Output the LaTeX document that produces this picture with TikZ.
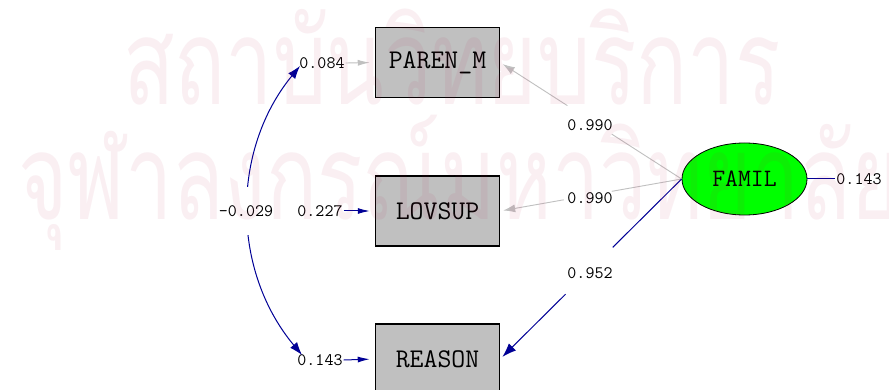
\documentclass[tikz,border=0pt]{standalone}
\usepackage{fontspec}
\newfontfamily\thaifont[Script=Thai]{Loma}
\usetikzlibrary{arrows.meta,shapes.geometric,calc}
\definecolor{lgray}{RGB}{192,192,192}
\definecolor{navyb}{RGB}{0,0,150}
\definecolor{boxfill}{RGB}{192,192,192}
\definecolor{famgreen}{RGB}{0,255,0}
\definecolor{wmcol}{RGB}{190,30,80}
\begin{document}
\begin{tikzpicture}[x=1pt,y=-1pt,
  varbox/.style={draw=black,line width=1.5pt,fill=boxfill,minimum width=124pt,minimum height=70pt,inner sep=0pt,font=\ttfamily\fontsize{27}{27}\selectfont},
  latent/.style={ellipse,draw=black,line width=0.8pt,fill=famgreen,minimum width=125pt,minimum height=72pt,inner sep=0pt,font=\ttfamily\fontsize{25}{25}\selectfont},
  lab/.style={inner sep=1pt,font=\ttfamily\fontsize{17.5}{17.5}\selectfont},
  graylink/.style={draw=lgray,line width=0.9pt},
  bluelink/.style={draw=navyb,line width=1pt},
  gtip/.style={-{Latex[length=12pt,width=8pt]},shorten >=3pt},
  btip/.style={-{Latex[length=14pt,width=10pt]},shorten >=3pt},
  etip/.style={-{Latex[length=12pt,width=6pt]},shorten >=5pt},
  covtip/.style={{Latex[length=13pt,width=9pt]}-{Latex[length=13pt,width=9pt]}},
  wmark/.style={anchor=base west,inner sep=0pt,text=wmcol,opacity=0.07,font=\thaifont\fontsize{119}{119}\selectfont}
]
\useasboundingbox[fill=white] (0,0) rectangle (889,390);

% observed variables
\node[varbox] (paren) at (437.5,62.5) {PAREN\_M};
\node[varbox] (lovsup) at (437.5,211) {LOVSUP};
\node[varbox] (reason) at (437.5,359) {REASON};
% latent variable
\node[latent] (famil) at (744.5,179) {FAMIL};

% error variances
\node[lab] (e1) at (322,63) {0.084};
\node[lab] (e2) at (320,211) {0.227};
\node[lab] (e3) at (320,360) {0.143};
\node[lab] (e4) at (859,179) {0.143};
\draw[graylink,etip] (e1.east) -- (paren.west);
\draw[bluelink,etip] (e2.east) -- (lovsup.west);
\draw[bluelink,etip] (e3.east) -- (reason.west);
\draw[bluelink] (famil.east) -- (e4.west);

% loadings
\node[lab] (l1) at (590,125) {0.990};
\node[lab] (l2) at (590,198) {0.990};
\node[lab] (l3) at (590,273) {0.952};
\draw[graylink] (famil.west) -- ($(famil.west)!0.385!(paren.east)$);
\draw[graylink,gtip] ($(famil.west)!0.63!(paren.east)$) -- (paren.east);
\draw[graylink] (famil.west) -- ($(famil.west)!0.385!(lovsup.east)$);
\draw[graylink,gtip] ($(famil.west)!0.65!(lovsup.east)$) -- (lovsup.east);
\draw[bluelink] (famil.west) -- ($(famil.west)!0.38!(reason.east)$);
\draw[bluelink,btip] ($(famil.west)!0.64!(reason.east)$) -- (reason.east);

% covariance
\coordinate (c1) at (300,66);
\coordinate (c2) at (302,355);
\draw[bluelink,covtip] (c1) .. controls (231,150) and (231,270) .. (c2);
\node[lab,fill=white,inner ysep=18pt,inner xsep=1pt] (cov) at (246,211) {-0.029};

% watermark
\node[wmark] (wm1) at (123,105) {\scalebox{0.71}[1]{สถาบันวิทยบริการ}};
\node[wmark] (wm2) at (18,220) {\scalebox{0.71}[1]{จุฬาลงกรณ์มหาวิทยาลัย}};
\end{tikzpicture}
\end{document}
